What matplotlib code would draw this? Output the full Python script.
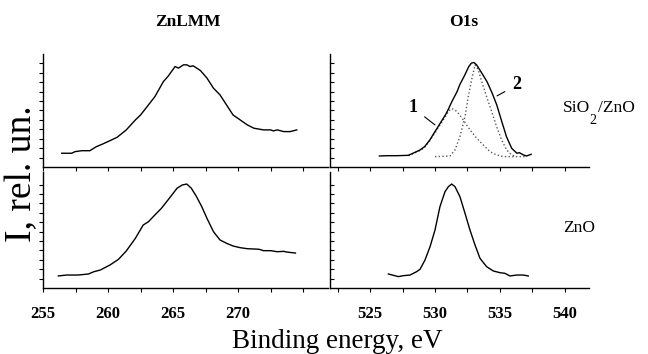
import matplotlib.pyplot as plt
from matplotlib.ticker import MultipleLocator, FixedLocator

plt.rcParams['font.family'] = ['Liberation Serif', 'DejaVu Serif']

# ZnLMM, SiO2/ZnO (top) and ZnO (bottom)
zn_sio_x = [256.44, 257.2, 257.46, 257.97, 258.6, 259.1, 259.6, 260.15, 260.7, 261.4,
            262.1, 262.5, 263.0, 263.6, 264.25, 264.6, 265.15, 265.4, 265.8, 266.05,
            266.3, 266.55, 267.1, 267.6, 268.1, 268.6, 269.1, 269.6, 270.15, 270.7,
            271.2, 271.95, 272.5, 272.7, 273.0, 273.5, 274.0, 274.5]
zn_sio_y = [1.46, 1.46, 1.63, 1.73, 1.73, 2.16, 2.45, 2.80, 3.16, 3.94,
            5.00, 5.53, 6.41, 7.48, 9.07, 9.61, 10.67, 10.50, 10.85, 10.85,
            10.67, 10.74, 10.24, 9.44, 8.37, 7.66, 6.60, 5.53, 5.00, 4.47,
            4.12, 3.94, 3.94, 3.83, 3.94, 3.76, 3.76, 3.94]

zn_zno_x = [256.18, 256.8, 257.7, 258.5, 258.9, 259.4, 260.15, 260.8, 261.4, 262.1,
            262.7, 263.1, 263.6, 264.1, 264.5, 265.0, 265.3, 265.7, 266.05, 266.4,
            266.8, 267.2, 267.6, 268.1, 268.6, 269.1, 269.6, 270.15, 270.7, 271.2,
            271.6, 271.95, 272.5, 273.0, 273.5, 273.7, 274.4]
zn_zno_y = [1.28, 1.38, 1.38, 1.49, 1.73, 1.91, 2.45, 3.05, 3.94, 5.29,
            6.70, 7.05, 7.77, 8.48, 9.18, 10.07, 10.61, 10.96, 11.06, 10.61,
            9.71, 8.65, 7.41, 5.99, 5.11, 4.76, 4.47, 4.29, 4.18, 4.15,
            4.12, 3.97, 3.97, 3.86, 3.90, 3.83, 3.72]

# O1s, SiO2/ZnO: measured spectrum and the two fitted components
o_sio_x = [525.72, 526.28, 527.05, 527.95, 528.3, 528.85, 529.2, 529.6, 530.0, 530.4,
           530.8, 531.0, 531.3, 531.7, 531.9, 532.3, 532.6, 532.8, 533.0, 533.2,
           533.6, 534.0, 534.4, 534.75, 535.1, 535.5, 535.9, 536.3, 536.5, 536.8,
           537.05, 537.4]
o_sio_y = [1.17, 1.20, 1.20, 1.24, 1.46, 1.81, 2.16, 2.87, 3.76, 4.65,
           5.53, 6.06, 6.95, 8.01, 8.72, 9.79, 10.67, 11.03, 11.10, 10.85,
           9.97, 9.07, 7.84, 6.60, 5.00, 3.22, 1.99, 1.46, 1.52, 1.28,
           1.17, 1.35]

comp1_x = [527.95, 528.3, 528.85, 529.2, 529.6, 530.0, 530.4, 530.8, 531.05, 531.28,
           531.54, 531.79, 532.18, 532.69, 533.21, 533.72, 534.23, 534.74, 535.26, 537.05]
comp1_y = [1.20, 1.40, 1.75, 2.08, 2.78, 3.66, 4.50, 5.35, 5.95, 6.20,
           6.06, 5.71, 5.00, 3.94, 3.05, 2.34, 1.63, 1.28, 1.10, 1.10]

comp2_x = [530.0, 531.15, 531.54, 531.92, 532.31, 532.56, 532.82, 533.08, 533.33, 533.59,
           533.97, 534.36, 534.74, 535.13, 535.51, 535.9, 536.28]
comp2_y = [1.10, 1.17, 1.81, 3.23, 5.35, 7.48, 9.26, 10.85, 10.32, 9.08,
           7.48, 5.88, 4.29, 2.87, 1.81, 1.28, 1.10]

# O1s, ZnO
o_zno_x = [526.41, 526.79, 527.18, 527.56, 528.08, 528.59, 528.85, 529.23, 529.62, 530.0,
           530.38, 530.77, 531.03, 531.28, 531.54, 531.92, 532.31, 532.69, 533.08, 533.46,
           533.97, 534.49, 535.0, 535.38, 535.77, 536.28, 536.79, 537.18]
o_zno_y = [1.49, 1.35, 1.21, 1.31, 1.38, 1.74, 1.99, 2.98, 4.40, 6.17,
           8.65, 10.25, 10.78, 11.06, 10.78, 9.71, 7.94, 6.17, 4.57, 3.16,
           2.27, 1.81, 1.63, 1.56, 1.28, 1.38, 1.38, 1.28]

zn_ticks = [255, 260, 265, 270, 275]
zn_labels = ['255', '260', '265', '270', '']
o_ticks = [525, 530, 535, 540]
o_labels = ['525', '530', '535', '540']

W, H = 648, 354
fig = plt.figure(figsize=(W / 100, H / 100), dpi=100)


def box(x0, y0, x1, y1):
    # pixel box -> figure fraction
    return [x0 / W, 1 - y1 / H, (x1 - x0) / W, (y1 - y0) / H]


ax_tl = fig.add_axes(box(43, 54, 328, 167))
ax_tr = fig.add_axes(box(330, 54, 589, 167))
ax_bl = fig.add_axes(box(43, 172, 328, 288))
ax_br = fig.add_axes(box(330, 172, 589, 288))

ax_tl.plot(zn_sio_x, zn_sio_y, color='black', lw=1.0)
ax_bl.plot(zn_zno_x, zn_zno_y, color='black', lw=1.0)
ax_tr.plot(comp1_x, comp1_y, color='0.35', lw=1.0, ls=':')
ax_tr.plot(comp2_x, comp2_y, color='0.35', lw=1.0, ls=':')
ax_tr.plot(o_sio_x, o_sio_y, color='black', lw=1.0)
ax_br.plot(o_zno_x, o_zno_y, color='black', lw=1.0)

for ax in [ax_tl, ax_tr, ax_bl, ax_br]:
    ax.set_facecolor('none')
    ax.spines['top'].set_visible(False)
    ax.spines['right'].set_visible(False)
    ax.spines['left'].set_linewidth(1.0)
    ax.spines['bottom'].set_linewidth(1.0)
    ax.yaxis.set_major_locator(FixedLocator(range(1, 12)))
    ax.set_yticklabels([])
    ax.tick_params(axis='x', which='both', direction='out', length=3, width=0.8,
                   pad=10, labelsize=12)
    ax.xaxis.set_minor_locator(MultipleLocator(2.5))

for ax in [ax_tl, ax_bl]:
    ax.set_xlim(255, 276.9)
    ax.set_xticks(zn_ticks)
    ax.tick_params(axis='y', direction='out', length=3, width=0.8)
for ax in [ax_tr, ax_br]:
    ax.set_xlim(521.92, 541.85)
    ax.set_xticks(o_ticks)
    ax.tick_params(axis='y', direction='in', length=3, width=0.8)

ax_tl.set_ylim(0, 12.0)
ax_tr.set_ylim(0, 12.0)
ax_bl.set_ylim(0, 12.34)
ax_br.set_ylim(0, 12.34)

ax_tl.set_xticklabels([])
ax_tr.set_xticklabels([])
ax_bl.set_xticklabels(zn_labels, fontweight='bold')
ax_br.set_xticklabels(o_labels, fontweight='bold')

ax_tr.annotate('1', xy=(530.0, 4.47), xytext=(528.3, 6.28), ha='center', va='center',
               fontsize=13, fontweight='bold',
               arrowprops=dict(arrowstyle='-', lw=0.8, color='black', shrinkA=4, shrinkB=0))
ax_tr.annotate('2', xy=(534.77, 7.55), xytext=(536.31, 8.72), ha='center', va='center',
               fontsize=13, fontweight='bold',
               arrowprops=dict(arrowstyle='-', lw=0.8, color='black', shrinkA=4, shrinkB=0))

fig.text(188 / W, 1 - 22 / H, 'ZnLMM', ha='center', va='center', fontsize=12.5, fontweight='bold')
fig.text(464 / W, 1 - 22 / H, 'O1s', ha='center', va='center', fontsize=12.5, fontweight='bold')
fig.text(563 / W, 1 - 108 / H, 'SiO', ha='left', va='center', fontsize=12.5)
fig.text(589 / W, 1 - 121 / H, '2', ha='left', va='center', fontsize=10)
fig.text(598 / W, 1 - 108 / H, '/ZnO', ha='left', va='center', fontsize=12.5)
fig.text(563 / W, 1 - 228 / H, 'ZnO', ha='left', va='center', fontsize=12.5)

fig.text(22 / W, 1 - 174 / H, 'I, rel. un.', rotation=90, ha='center', va='center', fontsize=27)
fig.text(337 / W, 1 - 348 / H, 'Binding energy, eV', ha='center', va='baseline', fontsize=19.5)

plt.savefig('out.png', dpi=100)
